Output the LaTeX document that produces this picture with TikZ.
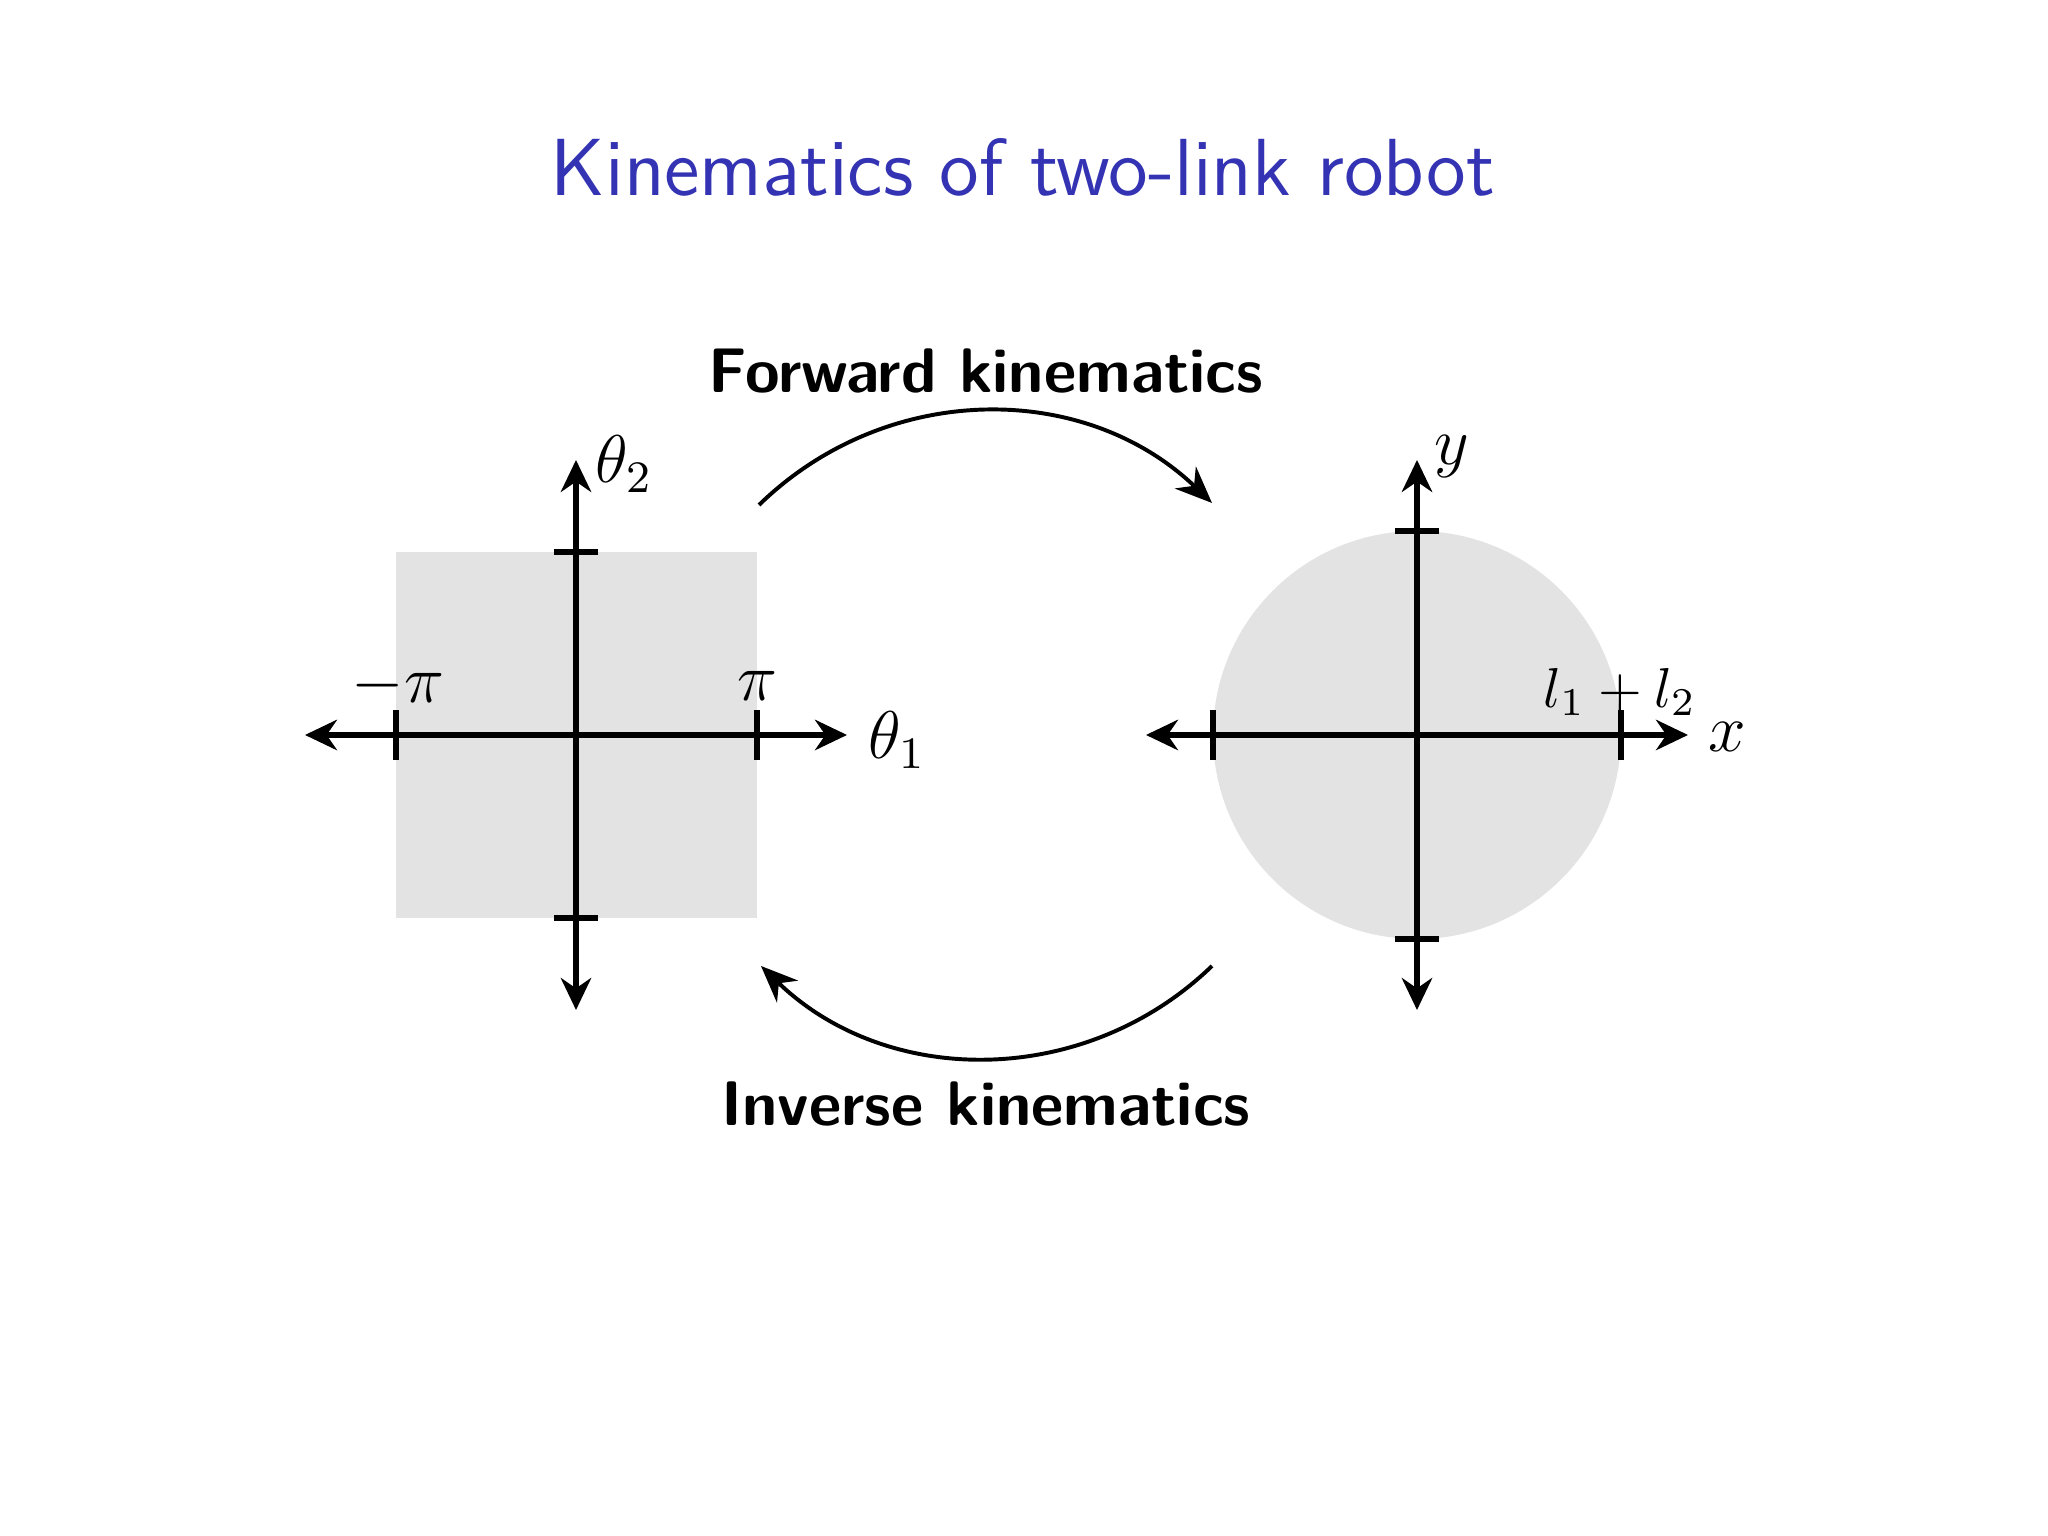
\documentclass[tikz,border=0pt]{standalone}
\usetikzlibrary{arrows.meta}
\definecolor{titleblue}{RGB}{51,51,179}
\definecolor{regiongray}{RGB}{227,227,227}
\begin{document}
\begin{tikzpicture}[x=0.0625mm,y=0.0625mm,
  axisline/.style={line width=0.9pt, {Stealth[length=2mm,width=1.9mm]}-{Stealth[length=2mm,width=1.9mm]}},
  tickmark/.style={line width=0.9pt},
  region/.style={fill=regiongray, draw=none},
  kinarrow/.style={line width=0.7pt, -{Stealth[length=2.3mm,width=1.9mm]}},
  mathlbl/.style={inner sep=0pt, font=\large},
  heading/.style={inner sep=0pt, font=\sffamily\bfseries\fontsize{11.2}{14}\selectfont},
  titletext/.style={inner sep=0pt, font=\sffamily\Large, text=titleblue}]
\useasboundingbox (0,0) rectangle (2048,1536);

% title
\node[titletext] (title) at (1023,1369) {Kinematics of two-link robot};

% ---------- left: joint space ----------
\coordinate (L) at (576,801);
\fill[region] (396,618) rectangle (757,984);
\coordinate (Lxa) at (305,801);
\coordinate (Lxb) at (847,801);
\coordinate (Lya) at (576,526);
\coordinate (Lyb) at (576,1076);
\draw[axisline] (Lxa) -- (Lxb);
\draw[axisline] (Lya) -- (Lyb);
\draw[tickmark] (396,776) -- (396,826);
\draw[tickmark] (757,776) -- (757,826);
\draw[tickmark] (554,984) -- (598,984);
\draw[tickmark] (554,618) -- (598,618);
\node[mathlbl] (mpi) at (398,850) {$-\pi$};
\node[mathlbl] (ppi) at (757,850) {$\pi$};
\node[mathlbl] (th1) at (897,796) {$\theta_1$};
\node[mathlbl] (th2) at (624,1072) {$\theta_2$};

% ---------- right: task space ----------
\coordinate (R) at (1417,801);
\fill[region] (R) circle[radius=204];
\coordinate (Rxa) at (1146,801);
\coordinate (Rxb) at (1688,801);
\coordinate (Rya) at (1417,526);
\coordinate (Ryb) at (1417,1076);
\draw[axisline] (Rxa) -- (Rxb);
\draw[axisline] (Rya) -- (Ryb);
\draw[tickmark] (1213,776) -- (1213,826);
\draw[tickmark] (1621,776) -- (1621,826);
\draw[tickmark] (1395,1005) -- (1439,1005);
\draw[tickmark] (1395,597) -- (1439,597);
\node[mathlbl] (ylbl) at (1452,1079) {$y$};
\node[mathlbl] (xlbl) at (1727,799) {$x$};
\node[mathlbl, font=\normalsize] (llbl) at (1620,844) {$l_1+l_2$};

% ---------- kinematics arrows ----------
\coordinate (fwdA) at (759,1031);
\coordinate (fwdB) at (1212,1033);
\coordinate (invA) at (1212,570);
\coordinate (invB) at (761,570);
\draw[kinarrow] (fwdA) to[bend left=44] (fwdB);
\draw[kinarrow] (invA) to[bend left=44] (invB);
\node[heading] (fwd) at (986,1165) {Forward kinematics};
\node[heading] (inv) at (986,432) {Inverse kinematics};
\end{tikzpicture}
\end{document}
